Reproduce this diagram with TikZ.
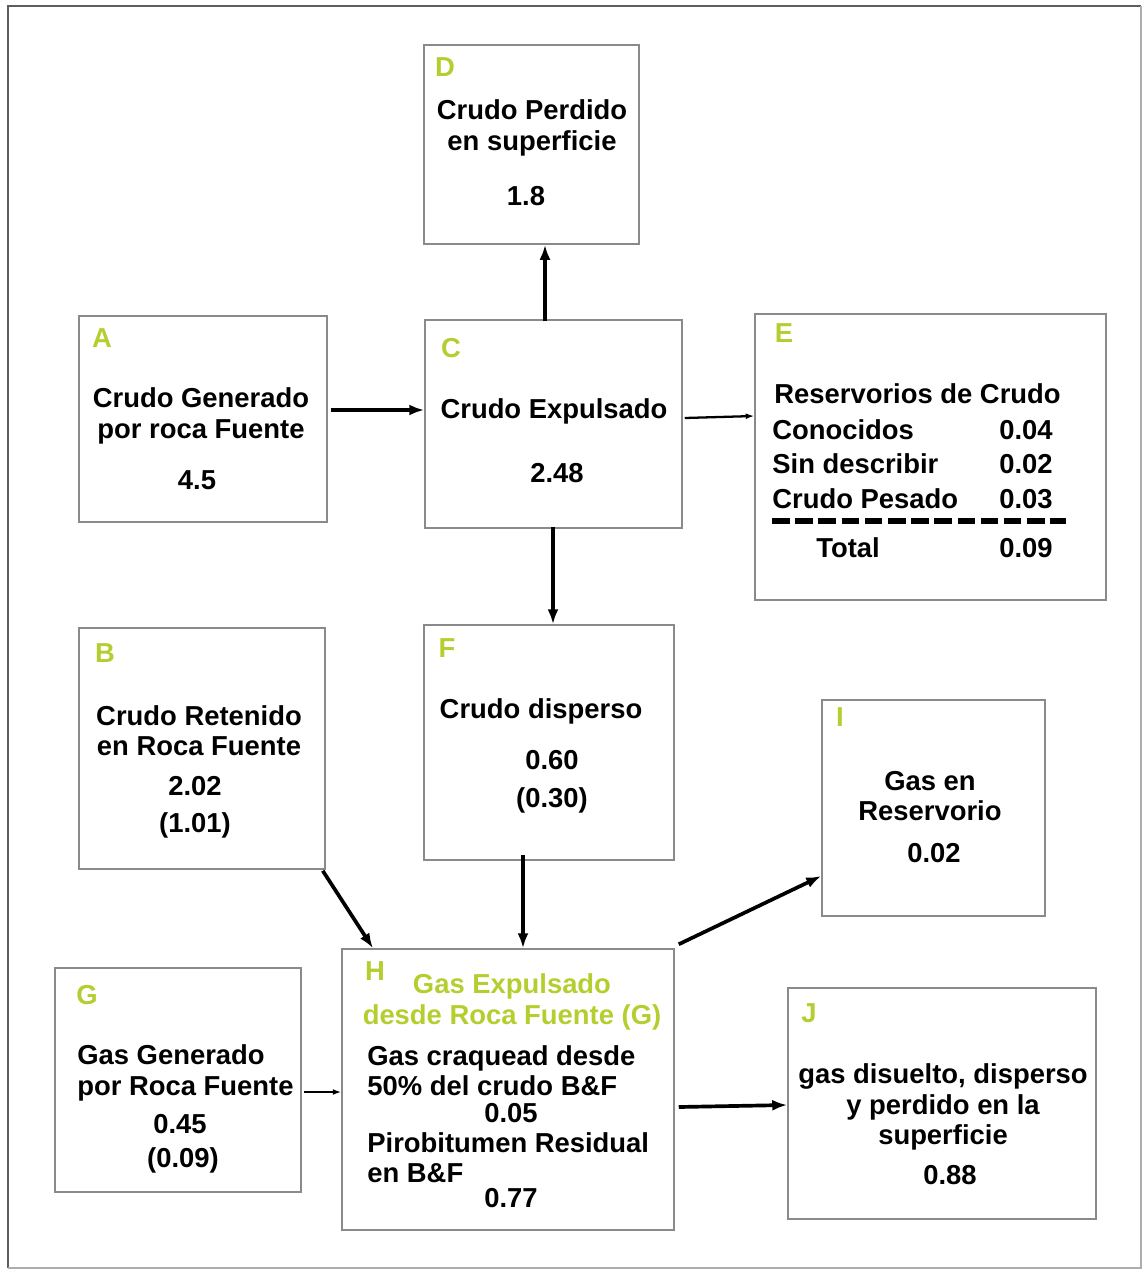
\documentclass[tikz,border=0pt]{standalone}
\usepackage{fontspec}
\setmainfont{Liberation Sans}
\usepackage{xcolor}
\usepackage{tikz}
\usetikzlibrary{arrows.meta, fit}
\definecolor{flow-green}{HTML}{B5CE2F}
\definecolor{flow-edge}{HTML}{8A8A8A}
\definecolor{flow-frame}{HTML}{5E5E5E}

\tikzset{
    box/.style={draw=flow-edge, line width=0.85pt, inner sep=0pt},
    txt/.style={font=\bfseries\fontsize{15.6}{17.2}\selectfont, align=center, inner sep=0pt},
    letter/.style={txt, text=flow-green},
    flow/.style={line width=2.1pt, -{Latex[length=0.3cm, width=0.22cm]}},
    thinflow/.style={line width=1.3pt, -{Latex[length=0.17cm, width=0.12cm]}}
}

\begin{document}
\begin{tikzpicture}[x=0.02cm, y=-0.02cm]
        \useasboundingbox (0,0) rectangle (1143,1269);
        % outer frame
        \draw[flow-frame, line width=1.4pt] (8,1268) -- (8,6) -- (1141,6);
        \draw[flow-edge!70, line width=0.9pt] (1141,6) -- (1141,1268) -- (8,1268);

        % boxes with their letters
        \foreach \n/\xa/\ya/\xb/\yb/\lx/\ly in {
            D/424/45/639/244/445/67,
            A/79/316/327/522/102/338,
            C/425/320/682/528/451/348,
            E/755/314/1106/600/784/333,
            B/79/628/325/869/105/653,
            F/424/625/674/860/447/648,
            I/822/700/1045/916/840/717,
            G/55/968/301/1192/87/995,
            H/342/949/674/1230/375/971,
            J/788/988/1096/1219/809/1013} {
            \node[box, fit={(\xa,\ya) (\xb,\yb)}] (\n) {};
            \node[letter] (\n-id) at (\lx,\ly) {\n};
        }

        % texts
        \node[txt] (D-t) at (532,128) {Crudo Perdido\\en superficie};
        \node[txt] (D-v) at (526,196) {1.8};
        \node[txt] (A-t) at (201,416) {Crudo Generado\\por roca Fuente};
        \node[txt] (A-v) at (197,480) {4.5};
        \node[txt] (C-t) at (554,411) {Crudo Expulsado};
        \node[txt] (C-v) at (557,473) {2.48};
        \node[txt, anchor=west] (E-t) at (774,394) {Reservorios de Crudo};
        \foreach \lab/\val/\yy in {Conocidos/0.04/430, Sin describir/0.02/464, Crudo Pesado/0.03/499} {
            \node[txt, anchor=west] (E-l\yy) at (772,\yy) {\lab};
            \node[txt, anchor=east] (E-v\yy) at (1053,\yy) {\val};
        }
        \draw[black, line width=3.1pt, dash pattern=on 10pt off 3.2pt] (772,521) -- (1066,521);
        \node[txt, anchor=west] (E-tot) at (816,548) {Total};
        \node[txt, anchor=east] (E-sum) at (1053,548) {0.09};
        \node[txt] (B-t) at (199,731) {Crudo Retenido\\en Roca Fuente};
        \node[txt] (B-v) at (195,786) {2.02};
        \node[txt] (B-p) at (195,825) {(1.01)};
        \node[txt] (F-t) at (541,711) {Crudo disperso};
        \node[txt] (F-v) at (552,760) {0.60};
        \node[txt] (F-p) at (552,800) {(0.30)};
        \node[txt] (I-t) at (930,796) {Gas en\\Reservorio};
        \node[txt] (I-v) at (934,853) {0.02};
        \node[txt, anchor=west, align=left] (G-t) at (77,1073) {Gas Generado\\por Roca Fuente};
        \node[txt] (G-v) at (180,1124) {0.45};
        \node[txt] (G-p) at (183,1160) {(0.09)};
        \node[letter] (H-t) at (512,1002) {Gas Expulsado\\desde Roca Fuente (G)};
        \node[txt, anchor=west, align=left] (H-a) at (367,1071) {Gas craquead desde\\50\% del crudo B\&F};
        \node[txt] (H-b) at (511,1113) {0.05};
        \node[txt, anchor=west, align=left] (H-c) at (367,1158) {Pirobitumen Residual\\en B\&F};
        \node[txt] (H-d) at (511,1198) {0.77};
        \node[txt] (J-t) at (943,1107) {gas disuelto, disperso\\y perdido en la\\superficie};
        \node[txt] (J-v) at (950,1175) {0.88};

        % connectors
        \draw[flow] ([yshift=-0.04cm]C.north -| 545,0) -- (D.south -| 545,0);
        \draw[flow] ([xshift=0.06cm]A.east |- 0,410) -- (C.west |- 0,410);
        \draw[thinflow] ([xshift=0.04cm]C.east |- 0,418) -- (E.west |- 0,416);
        \draw[flow] ([yshift=0.04cm]C.south -| 553,0) -- (F.north -| 553,0);
        \draw[flow] ([shift={(-0.06cm,-0.02cm)}]B.south east) -- (H.north -| 373,0);
        \draw[flow] ([yshift=0.12cm]F.south -| 523,0) -- (H.north -| 523,0);
        \draw[flow] ([shift={(0.08cm,0.08cm)}]H.north east) -- (I.west |- 0,876);
        \draw[thinflow] ([xshift=0.04cm]G.east |- 0,1092) -- (H.west |- 0,1092);
        \draw[flow] ([xshift=0.08cm]H.east |- 0,1107) -- (J.west |- 0,1105);
    \end{tikzpicture}
\end{document}
